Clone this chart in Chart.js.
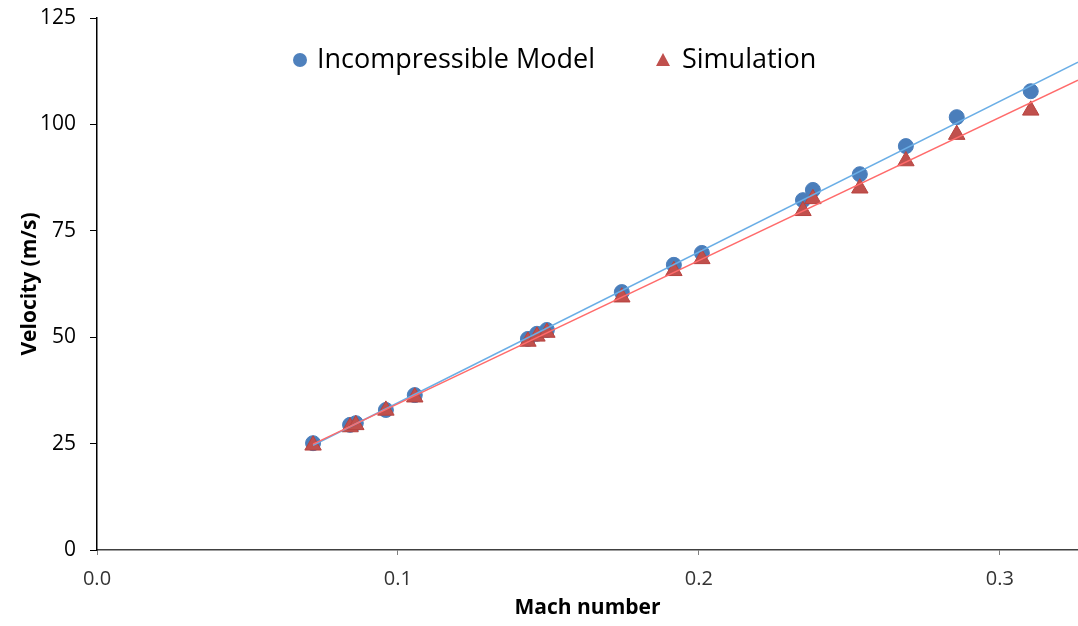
<!DOCTYPE html>
<html>
<head>
<meta charset="utf-8">
<script src="https://cdn.jsdelivr.net/npm/chart.js@4.4.1/dist/chart.umd.min.js"></script>
<style>
  html, body { margin: 0; padding: 0; background: #fff; }
  #wrap { width: 1078px; height: 626px; }
</style>
</head>
<body>
<div id="wrap"><canvas id="machChart" width="1078" height="626"></canvas></div>
<script>
// Mach number (x) for both series
const machValues = [0.0718, 0.0841, 0.0860, 0.0960, 0.1056, 0.1432, 0.1462, 0.1495, 0.1744,
                    0.1917, 0.2010, 0.2346, 0.2379, 0.2535, 0.2688, 0.2857, 0.3103];
// Velocity (m/s)
const modelVelocity = [25.1, 29.4, 29.8, 32.9, 36.4, 49.6, 50.8, 51.7, 60.6,
                       67.0, 69.8, 82.2, 84.6, 88.3, 94.9, 101.7, 107.8];
const simVelocity = [24.6, 28.9, 29.4, 32.8, 35.9, 49.0, 50.2, 51.1, 59.4,
                     65.6, 68.4, 79.7, 82.5, 85.0, 91.4, 97.6, 103.3];
const xTicks = [0.0, 0.1, 0.2, 0.3];
const yTicks = [0, 25, 50, 75, 100, 125];
const xMax = 0.326;

const FONT = "'Open Sans', 'Noto Sans', sans-serif";

// linear trendline (least squares), from first point out to the axis end
function trendline(xs, ys) {
    const n = xs.length;
    let sx = 0, sy = 0, sxx = 0, sxy = 0;
    for (let i = 0; i < n; i++) {
        sx += xs[i]; sy += ys[i];
        sxx += xs[i] * xs[i]; sxy += xs[i] * ys[i];
    }
    const slope = (n * sxy - sx * sy) / (n * sxx - sx * sx);
    const icpt = (sy - slope * sx) / n;
    const x0 = Math.min(...xs);
    return [{x: x0, y: slope * x0 + icpt}, {x: xMax, y: slope * xMax + icpt}];
}

const toPoints = (xs, ys) => xs.map((x, i) => ({x: x, y: ys[i]}));

// legend drawn inside the plot area, like the original
const innerLegend = {
    id: 'innerLegend',
    afterDraw(chart) {
        const ctx = chart.ctx;
        const a = chart.chartArea;
        const y = a.top + 42;
        ctx.save();
        ctx.font = '27px ' + FONT;
        ctx.textBaseline = 'middle';

        // circle
        ctx.beginPath();
        ctx.arc(a.left + 203, y, 7, 0, Math.PI * 2);
        ctx.fillStyle = '#4f81bd';
        ctx.fill();
        ctx.fillStyle = '#000';
        ctx.fillText(chart.data.datasets[1].label, a.left + 220, y);

        // triangle
        const tx = a.left + 566;
        ctx.beginPath();
        ctx.moveTo(tx, y - 7);
        ctx.lineTo(tx + 7, y + 6);
        ctx.lineTo(tx - 7, y + 6);
        ctx.closePath();
        ctx.fillStyle = '#c0504d';
        ctx.fill();
        ctx.fillStyle = '#000';
        ctx.fillText(chart.data.datasets[0].label, a.left + 585, y);
        ctx.restore();
    }
};

function initChart() {
    const ctx = document.getElementById('machChart');
    new Chart(ctx, {
        type: 'scatter',
        data: {
            datasets: [{
                label: 'Simulation',
                data: toPoints(machValues, simVelocity),
                pointStyle: 'triangle',
                pointRadius: 9.5,
                backgroundColor: '#c0504d',
                borderColor: '#b8433f',
                borderWidth: 1,
                order: 2
            }, {
                label: 'Incompressible Model',
                data: toPoints(machValues, modelVelocity),
                pointStyle: 'circle',
                pointRadius: 7.5,
                backgroundColor: '#4a7ebb',
                borderColor: '#4a7ebb',
                borderWidth: 1,
                order: 3
            }, {
                label: 'model trend',
                type: 'line',
                data: trendline(machValues, modelVelocity),
                borderColor: '#6aaee6',
                borderWidth: 1.5,
                pointRadius: 0,
                fill: false,
                order: 1
            }, {
                label: 'sim trend',
                type: 'line',
                data: trendline(machValues, simVelocity),
                borderColor: '#ff6b6b',
                borderWidth: 1.5,
                pointRadius: 0,
                fill: false,
                order: 0
            }]
        },
        options: {
            responsive: false,
            animation: false,
            layout: { autoPadding: false, padding: { top: 18, right: 0, left: 0, bottom: 0 } },
            plugins: {
                legend: { display: false },
                tooltip: { enabled: false }
            },
            scales: {
                x: {
                    type: 'linear',
                    min: 0,
                    max: xMax,
                    afterBuildTicks: function(axis) {
                        axis.ticks = xTicks.map(v => ({value: v}));
                    },
                    afterFit: function(axis) {
                        axis.height = 76;
                        axis.paddingLeft = 0;
                        axis.paddingRight = 0;
                    },
                    border: { color: '#404040', width: 1.5 },
                    grid: { drawOnChartArea: false, drawTicks: true, tickLength: 5, color: '#808080' },
                    ticks: {
                        padding: 12,
                        color: '#333',
                        font: { family: FONT, size: 20 },
                        callback: function(v) { return v.toFixed(1); }
                    },
                    title: {
                        display: true,
                        text: 'Mach number',
                        color: '#000',
                        font: { family: FONT, size: 21, weight: 'bold' },
                        padding: { top: 0, bottom: 5 }
                    }
                },
                y: {
                    min: 0,
                    max: 125,
                    afterBuildTicks: function(axis) {
                        axis.ticks = yTicks.map(v => ({value: v}));
                    },
                    afterFit: function(axis) {
                        axis.width = 97;
                        axis.paddingTop = 0;
                        axis.paddingBottom = 0;
                    },
                    border: { color: '#000', width: 1.5 },
                    grid: { drawOnChartArea: false, drawTicks: true, tickLength: 7, color: '#000' },
                    ticks: {
                        padding: 14,
                        color: '#000',
                        font: { family: FONT, size: 21 }
                    },
                    title: {
                        display: true,
                        text: 'Velocity (m/s)',
                        color: '#000',
                        font: { family: FONT, size: 21, weight: 'bold' },
                        padding: { top: 17, bottom: 0 }
                    }
                }
            }
        },
        plugins: [innerLegend]
    });
}

document.addEventListener('DOMContentLoaded', initChart);
</script>
</body>
</html>
